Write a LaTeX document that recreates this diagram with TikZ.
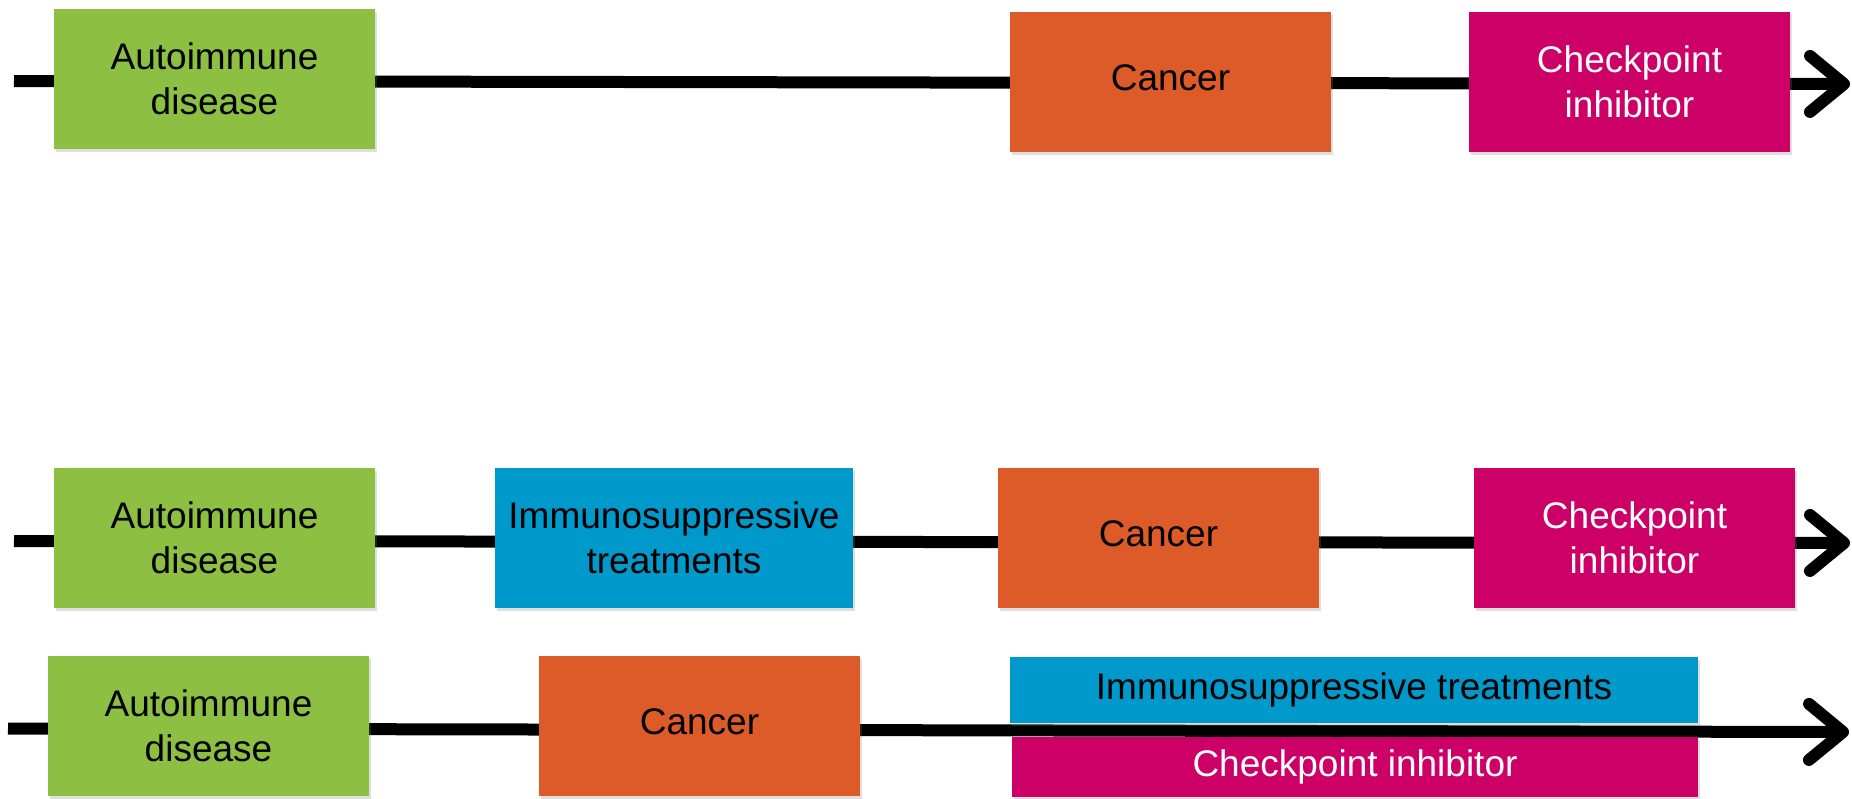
\documentclass[tikz,border=0pt]{standalone}
\usepackage{fontspec}
\setmainfont{Liberation Sans}
\usetikzlibrary{arrows.meta,shadows}
\definecolor{AutoGreen}{RGB}{141,192,66}
\definecolor{CancerOrange}{RGB}{221,91,40}
\definecolor{CheckMagenta}{RGB}{204,0,102}
\definecolor{ImmunoBlue}{RGB}{0,153,204}
\tikzset{
  box/.style = {rectangle, inner sep=0pt, minimum width=160.5pt, minimum height=70pt,
    align=center, font=\fontsize{18.5}{22.5}\selectfont,
    drop shadow={shadow xshift=1pt, shadow yshift=-1.5pt, opacity=0.25}},
  autobox/.style = {box, fill=AutoGreen},
  cancerbox/.style = {box, fill=CancerOrange, text depth=0.4em},
  checkbox/.style = {box, fill=CheckMagenta, text=white},
  immunobox/.style = {box, fill=ImmunoBlue},
  timeline/.style = {line width=6pt, -{Straight Barb[round, length=17pt, width=28pt]}}
}
\begin{document}
\begin{tikzpicture}[x=0.5pt, y=-0.5pt]
              \useasboundingbox (0,0) rectangle (1852,798);
              \coordinate (s1) at (14,81);
              \coordinate (e1) at (1850,84);
              \coordinate (s2) at (14,541);
              \coordinate (e2) at (1850,543);
              \coordinate (s3) at (8,728.5);
              \coordinate (e3) at (1849,732);
              \foreach \r in {1, 2, 3}
              \draw [timeline] (s\r) -- (e\r);
              \node [autobox] (auto1) at (214.5, 79) {Autoimmune\\disease};
              \node [cancerbox] (cancer1) at (1170.5, 82) {Cancer};
              \node [checkbox] (check1) at (1629.5, 82) {Checkpoint\\inhibitor};
              \node [autobox] (auto2) at (214.5, 537.5) {Autoimmune\\disease};
              \node [immunobox, minimum width=179pt] (immuno2) at (674, 537.5) {Immunosuppressive\\treatments};
              \node [cancerbox] (cancer2) at (1158.5, 538) {Cancer};
              \node [checkbox] (check2) at (1634.5, 537.5) {Checkpoint\\inhibitor};
              \node [autobox] (auto3) at (208.5, 726) {Autoimmune\\disease};
              \node [cancerbox] (cancer3) at (699.5, 726) {Cancer};
              \node [immunobox, minimum width=344pt, minimum height=33pt] (immuno3) at (1354, 690) {Immunosuppressive treatments};
              \node [checkbox, minimum width=343pt, minimum height=30pt] (check3) at (1355, 767) {Checkpoint inhibitor};
            \end{tikzpicture}
\end{document}
